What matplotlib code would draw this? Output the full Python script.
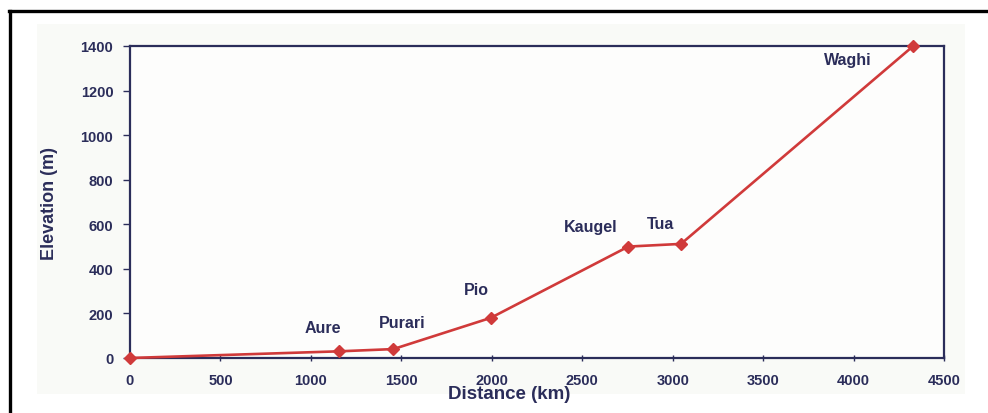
import matplotlib
matplotlib.use("Agg")
import matplotlib.pyplot as plt
from matplotlib.lines import Line2D
from matplotlib.patches import Rectangle

# Data
distance_km = [0, 1157, 1456, 1994, 2755, 3046, 4330]
elevation_m = [0, 30, 40, 180, 500, 512, 1400]
site_names = ["", "Aure", "Purari", "Pio", "Kaugel", "Tua", "Waghi"]
x_ticks = [0, 500, 1000, 1500, 2000, 2500, 3000, 3500, 4000, 4500]
y_ticks = [0, 200, 400, 600, 800, 1000, 1200, 1400]

navy = "#2b2d5a"
red = "#d03a3a"
plt.rcParams["font.family"] = ["Liberation Sans", "DejaVu Sans"]
plt.rcParams["font.weight"] = "bold"

fig = plt.figure(figsize=(9.88, 4.14), dpi=100)
fig.patch.set_facecolor("white")

# scanned paper tone
fig.add_artist(Rectangle((37 / 988, 1 - 395 / 414), (965 - 37) / 988, (395 - 25) / 414,
                         transform=fig.transFigure, facecolor="#f9faf7", edgecolor="none", zorder=0))
# outer border (top and left)
fig.add_artist(Line2D([9 / 988, 1.0], [1 - 12 / 414, 1 - 12 / 414], transform=fig.transFigure,
                      color="black", lw=2.4))
fig.add_artist(Line2D([10 / 988, 10 / 988], [1 - 12 / 414, 0], transform=fig.transFigure,
                      color="black", lw=2.4))

ax = fig.add_axes([130 / 988, 1 - 359 / 414, (944 - 130) / 988, (359 - 47) / 414])
ax.set_facecolor("#fdfdfc")
ax.set_xlim(0, 4500)
ax.set_ylim(0, 1400)

ax.plot(distance_km, elevation_m, color=red, lw=1.9, marker="D", markersize=6.5,
        markerfacecolor=red, markeredgecolor=red, clip_on=False, zorder=5)

label_offsets = {
    "Aure": (-12, 12), "Purari": (6.5, 14), "Pio": (-10.5, 15), "Kaugel": (-27, 9),
    "Tua": (-15, 9), "Waghi": (-47, -15),
}
for x, y, name in zip(distance_km, elevation_m, site_names):
    if not name:
        continue
    dx, dy = label_offsets[name]
    ax.annotate(name, (x, y), xytext=(dx, dy), textcoords="offset points",
                ha="center", va="bottom", fontsize=11.5, fontweight="bold", color=navy)

for s in ax.spines.values():
    s.set_color(navy)
    s.set_linewidth(1.6)

ax.set_xticks(x_ticks)
ax.set_yticks(y_ticks)
ax.set_xticklabels([str(v) for v in x_ticks])
ax.set_yticklabels([str(v) for v in y_ticks])
ax.tick_params(axis="x", direction="inout", length=5, width=1, color=navy, pad=8,
               labelsize=10.5, labelcolor=navy)
ax.tick_params(axis="y", direction="out", length=5, width=1, color=navy, pad=7,
               labelsize=10.5, labelcolor=navy)
for lab in ax.get_xticklabels() + ax.get_yticklabels():
    lab.set_fontweight("bold")

ax.set_xlabel("Distance (km)", fontsize=13.5, fontweight="bold", color=navy, va="center")
ax.xaxis.set_label_coords((509 - 130) / 814, (359 - 395) / 312)
ax.set_ylabel("Elevation (m)", fontsize=13, fontweight="bold", color=navy, va="center")
ax.yaxis.set_label_coords((50 - 130) / 814, (359 - 203) / 312)

fig.savefig("out.png", dpi=100)
